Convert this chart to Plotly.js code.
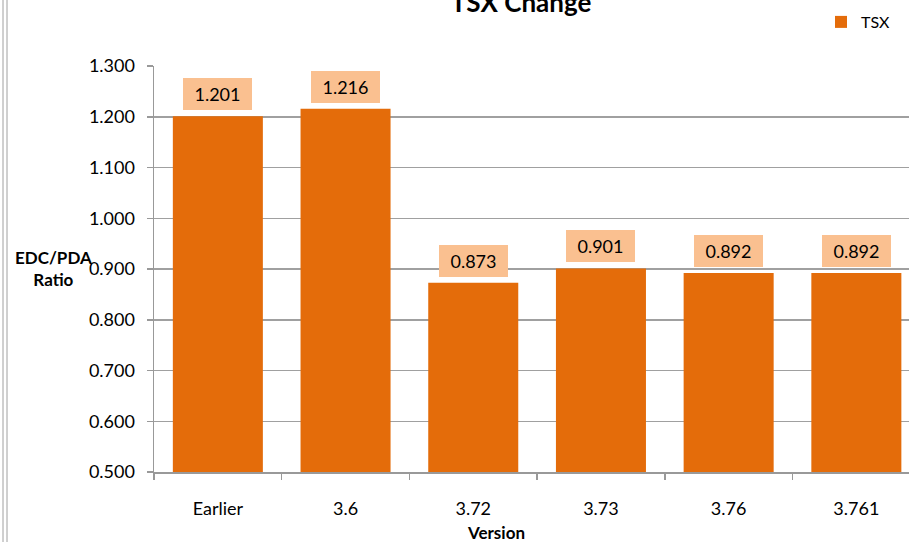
<!DOCTYPE html>
<html>
<head>
<meta charset="utf-8">
<script src="https://cdn.plot.ly/plotly-3.0.1.min.js"></script>
<style>
html,body{margin:0;padding:0;background:#fff;}
#chart{width:909px;height:542px;}
</style>
</head>
<body>
<div id="chart"></div>
<script>
const categories = ["Earlier", "3.6", "3.72", "3.73", "3.76", "3.761"];
const tsxValues = [1.201, 1.216, 0.873, 0.901, 0.892, 0.892];
const valueLabels = ["1.201", "1.216", "0.873", "0.901", "0.892", "0.892"];

const W = 909, H = 542;
const ML = 154, MR = 0, MT = 66, MB = 70;
const plotW = W - ML - MR;
const catW = 127.7;
const FONT = "Lato, 'Open Sans', sans-serif";

const trace = {
  type: "bar",
  x: categories,
  y: tsxValues,
  name: "TSX",
  marker: {color: "#E46C0A"},
  hoverinfo: "x+y"
};

const labelAnns = categories.map((c, i) => ({
  x: i, y: tsxValues[i], xref: "x", yref: "y",
  text: valueLabels[i], showarrow: false,
  xanchor: "center", yanchor: "bottom", yshift: 6,
  width: 59,
  bgcolor: "#FAC090", borderpad: 5, borderwidth: 0,
  font: {family: FONT, size: 18, color: "#000"}
}));

function px2paperX(px){ return (px - ML) / plotW; }
function px2paperY(py){ return (H - MB - py) / (H - MT - MB); }

const layout = {
  width: W, height: H,
  margin: {l: ML, r: MR, t: MT, b: MB, pad: 0},
  paper_bgcolor: "#fff", plot_bgcolor: "#fff",
  font: {family: FONT, size: 18, color: "#000"},
  title: {
    text: "<b>TSX Change</b>",
    font: {family: FONT, size: 26, color: "#000"},
    x: 521 / W, xanchor: "center",
    y: 1 - 3 / H, yanchor: "middle", yref: "container"
  },
  bargap: 0.295,
  showlegend: true,
  legend: {
    x: px2paperX(821), y: px2paperY(5), xanchor: "left", yanchor: "top",
    font: {family: FONT, size: 16, color: "#000"},
    bgcolor: "rgba(0,0,0,0)", itemwidth: 30
  },
  xaxis: {
    type: "category",
    range: [-0.5, -0.5 + plotW / catW],
    showline: true, linecolor: "#999", linewidth: 1.5,
    ticks: "outside", tickson: "boundaries", ticklen: 6, tickcolor: "#999", tickwidth: 1.5,
    showgrid: false,
    ticklabelstandoff: 20,
    tickfont: {family: FONT, size: 18, color: "#000"},
    fixedrange: true
  },
  yaxis: {
    range: [0.5, 1.3],
    dtick: 0.1, tick0: 0.5,
    tickformat: ".3f",
    showline: true, linecolor: "#999", linewidth: 1.5,
    ticks: "outside", ticklen: 6, tickcolor: "#999", tickwidth: 1.5,
    showgrid: true, gridcolor: "#a0a0a0", gridwidth: 1.5,
    zeroline: false,
    ticklabelstandoff: 8,
    tickfont: {family: FONT, size: 18, color: "#000"},
    fixedrange: true
  },
  annotations: labelAnns.concat([
    {
      text: "<b>EDC/PDA</b><br><b>Ratio</b>",
      xref: "paper", yref: "paper",
      x: px2paperX(53), y: px2paperY(268),
      xanchor: "center", yanchor: "middle", showarrow: false,
      font: {family: FONT, size: 17, color: "#000"}
    },
    {
      text: "<b>Version</b>",
      xref: "paper", yref: "paper",
      x: px2paperX(496), y: px2paperY(532),
      xanchor: "center", yanchor: "middle", showarrow: false,
      font: {family: FONT, size: 17, color: "#000"}
    }
  ]),
  shapes: [
    {type: "line", xref: "paper", yref: "paper",
     x0: px2paperX(3), x1: px2paperX(3), y0: px2paperY(0), y1: px2paperY(542),
     line: {color: "#a0a0a0", width: 1}},
    {type: "line", xref: "paper", yref: "paper",
     x0: px2paperX(7), x1: px2paperX(7), y0: px2paperY(0), y1: px2paperY(542),
     line: {color: "#a0a0a0", width: 1}}
  ]
};

Plotly.newPlot("chart", [trace], layout, {displayModeBar: false, staticPlot: true});
</script>
</body>
</html>
